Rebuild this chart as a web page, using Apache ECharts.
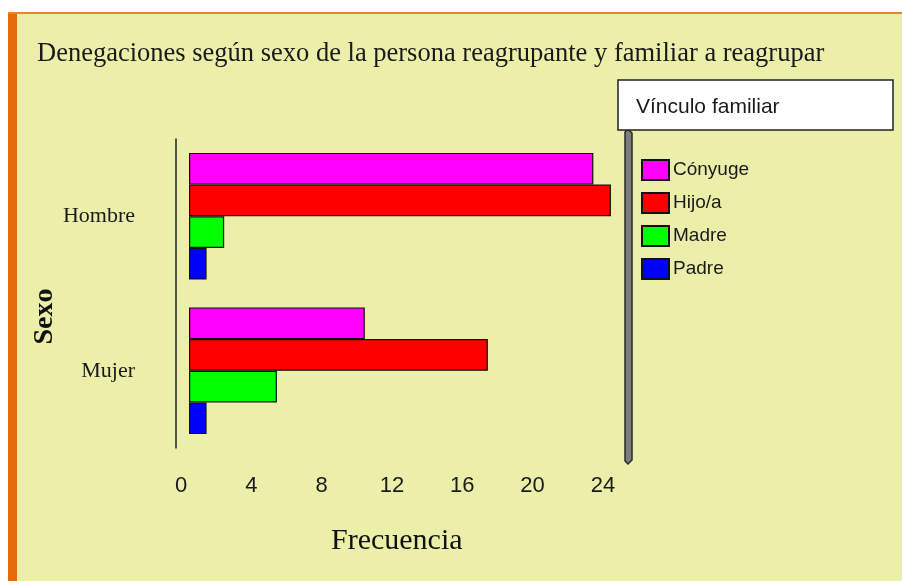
<!DOCTYPE html>
<html>
<head>
<meta charset="utf-8">
<script src="https://cdn.jsdelivr.net/npm/echarts@6/dist/echarts.min.js"></script>
<style>
  html, body { margin: 0; padding: 0; background: #ffffff; }
  #chart { width: 902px; height: 581px; }
</style>
</head>
<body>
<div id="chart"></div>
<script>
// datos
const sexos = ["Hombre", "Mujer"];
const vinculos = ["Cónyuge", "Hijo/a", "Madre", "Padre"];
const conyuge = [23, 10];
const hijo = [24, 17];
const madre = [2, 5];
const padre = [1, 1];
const colores = ["#ff00ff", "#ff0000", "#00ff00", "#0000ff"];

const valores = [conyuge, hijo, madre, padre];

const chart = echarts.init(document.getElementById("chart"));

//series de barras
const series = vinculos.map((nombre, i) => ({
    name: nombre,
    type: "bar",
    data: valores[i],
    barGap: "0%",
    barCategoryGap: "18%",
    itemStyle: {
        color: colores[i],
        borderColor: "#111",
        borderWidth: 1.2
    }
}));

const options = {
    animation: false,
    backgroundColor: "transparent",
    title: {
        text: "Denegaciones según sexo de la persona reagrupante y familiar a reagrupar",
        left: 32,
        top: 36,
        textStyle: {
            fontFamily: "Liberation Serif",
            fontWeight: "normal",
            fontSize: 26.5,
            color: "#1a1a1a"
        }
    },
    legend: {
        orient: "vertical",
        left: 636,
        top: 154,
        itemWidth: 27,
        itemHeight: 20,
        itemGap: 11,
        icon: "rect",
        data: vinculos,
        textStyle: {
            fontFamily: "Liberation Sans",
            fontSize: 19,
            lineHeight: 20,
            color: "#1a1a1a",
            padding: [0, 0, 0, -1]
        }
    },
    grid: {
        left: 189,
        right: 273.5,
        top: 139,
        bottom: 133
    },
    xAxis: {
        type: "value",
        min: 0,
        max: 25,
        interval: 4,
        name: "Frecuencia",
        nameLocation: "middle",
        nameGap: 78,
        nameTextStyle: {
            fontFamily: "Liberation Serif",
            fontSize: 30,
            color: "#111",
            padding: [0, 24, 0, 0]
        },
        axisLine: { show: false },
        axisTick: { show: false },
        splitLine: { show: false },
        axisLabel: {
            showMaxLabel: false,
            margin: 27,
            padding: [0, 16, 0, 0],
            fontFamily: "Liberation Sans",
            fontSize: 22,
            color: "#1a1a1a"
        }
    },
    yAxis: {
        type: "category",
        data: sexos,
        inverse: true,
        offset: 13,
        name: "Sexo",
        nameLocation: "middle",
        nameGap: 116,
        nameRotate: 90,
        nameTextStyle: {
            fontFamily: "Liberation Serif",
            fontWeight: "bold",
            fontSize: 28,
            color: "#111",
            padding: [0, 46, 0, 0]
        },
        axisLine: { show: true, onZero: false, lineStyle: { color: "#222", width: 1.5 } },
        axisTick: { show: false },
        axisLabel: {
            margin: 41,
            fontFamily: "Liberation Serif",
            fontSize: 22,
            color: "#1a1a1a"
        }
    },
    graphic: [
        // fondo y marco naranja
        { type: "rect", z: -10, silent: true, shape: { x: 8, y: 12, width: 894, height: 569 }, style: { fill: "#ebefaa" } },
        { type: "rect", z: -9, silent: true, shape: { x: 8, y: 12, width: 9, height: 569 }, style: { fill: "#e36c0a" } },
        { type: "rect", z: -9, silent: true, shape: { x: 8, y: 12, width: 894, height: 2 }, style: { fill: "#e8842c" } },
        // pared gris
        { type: "polygon", z: 5, silent: true, shape: { points: [[625, 132], [628, 129], [632, 133], [632, 460], [628, 464], [625, 461]] }, style: { fill: "#7d7d7d", stroke: "#2a2a2a", lineWidth: 1.5 } },
        // cabecera de la leyenda
        { type: "rect", z: 5, silent: true, shape: { x: 618, y: 80, width: 275, height: 50 }, style: { fill: "#ffffff", stroke: "#222", lineWidth: 1.5 } },
        { type: "text", z: 6, silent: true, x: 636, y: 107, style: { text: "Vínculo familiar", fontFamily: "Liberation Sans", fontSize: 21, fill: "#1a1a1a", verticalAlign: "middle" } }
    ],
    series: series
};

chart.setOption(options);
</script>
</body>
</html>
